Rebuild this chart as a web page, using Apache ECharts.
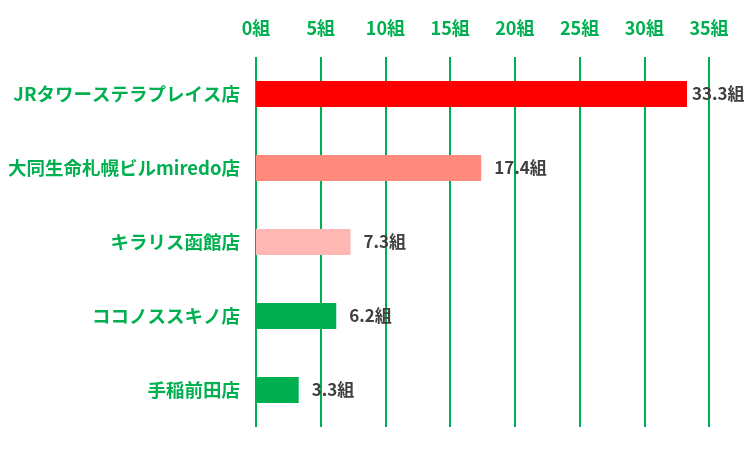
<!DOCTYPE html>
<html>
<head>
<meta charset="utf-8">
<script src="https://cdn.jsdelivr.net/npm/echarts@6/dist/echarts.min.js"></script>
<style>
html, body { margin: 0; padding: 0; background: #fff; }
#main { width: 750px; height: 450px; }
</style>
</head>
<body>
<div id="main"></div>
<script>
// 店舗名（上から順）
var stores = ['JRタワーステラプレイス店', '大同生命札幌ビルmiredo店', 'キラリス函館店', 'ココノススキノ店', '手稲前田店'];
// 組数
var groups = [33.3, 17.4, 7.3, 6.2, 3.3];
var barColors = ['#ff0000', '#ff8b7e', '#ffb7b4', '#00b050', '#00b050'];
var xTicks = [0, 5, 10, 15, 20, 25, 30, 35];

var green = '#00b050';
var font = '"Noto Sans CJK JP", "Noto Sans", sans-serif';

var myChart = echarts.init(document.getElementById('main'));

var barData = groups.map(function (v, i) {
    return {
        value: v,
        itemStyle: {color: barColors[i]},
        label: {distance: v > 30 ? 5 : 13}
    };
});

option = {
    animation: false,
    grid: {left: 256, right: 41, top: 57, bottom: 23},
    xAxis: {
        type: 'value',
        position: 'top',
        min: xTicks[0],
        max: xTicks[xTicks.length - 1],
        interval: 5,
        axisLine: {show: false},
        axisTick: {show: false},
        axisLabel: {
            margin: 20,
            color: green,
            fontWeight: 'bold',
            fontSize: 18,
            fontFamily: font,
            formatter: '{value}組'
        },
        splitLine: {lineStyle: {color: green, width: 2}}
    },
    yAxis: {
        type: 'category',
        inverse: true,
        data: stores,
        axisLine: {show: false},
        axisTick: {show: false},
        axisLabel: {
            margin: 16,
            color: green,
            fontWeight: 'bold',
            fontSize: 18.5,
            fontFamily: font
        }
    },
    series: [{
        type: 'bar',
        data: barData,
        barWidth: 26,
        label: {
            show: true,
            position: 'right',
            color: '#404040',
            fontWeight: 'bold',
            fontSize: 17,
            fontFamily: font,
            formatter: function (p) { return p.value.toFixed(1) + '組'; }
        }
    }]
};

myChart.setOption(option);
</script>
</body>
</html>
